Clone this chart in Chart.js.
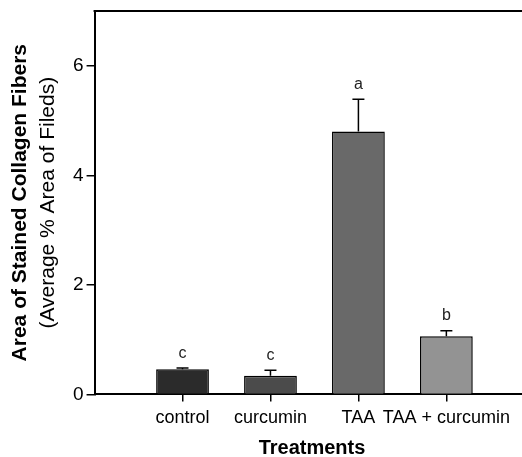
<!DOCTYPE html>
<html>
<head>
<meta charset="utf-8">
<script src="https://cdn.jsdelivr.net/npm/chart.js@4.4.1/dist/chart.umd.min.js"></script>
<style>
  html, body { margin: 0; padding: 0; background: #fff; }
  #wrap { width: 522px; height: 457px; }
</style>
</head>
<body>
<div id="wrap"><canvas id="chart" width="522" height="457"></canvas></div>
<script>
// treatment groups
const treatments = ['control', 'curcumin', 'TAA', 'TAA + curcumin'];
const positions = [1, 2, 3, 4];
// mean % area and upper error (SE)
const means = [0.46, 0.34, 4.80, 1.06];
const errors = [0.02, 0.10, 0.59, 0.10];
const letters = ['c', 'c', 'a', 'b'];
const barColors = ['#2b2b2b', '#4b4b4b', '#696969', '#939393'];
const yTicks = [0, 2, 4, 6];

const FONT = '"Liberation Sans", Arial, sans-serif';

// error bars, letters, frame top and the axis titles
const extras = {
  id: 'extras',
  afterDatasetsDraw(chart) {
    const ctx = chart.ctx;
    const x = chart.scales.x, y = chart.scales.y;
    const area = chart.chartArea;
    ctx.save();
    ctx.strokeStyle = '#000';
    ctx.lineWidth = 1.5;
    means.forEach((m, i) => {
      const px = x.getPixelForValue(positions[i]);
      const top = y.getPixelForValue(m);
      const cap = y.getPixelForValue(m + errors[i]);
      ctx.beginPath();
      ctx.moveTo(px, top);
      ctx.lineTo(px, cap);
      ctx.moveTo(px - 6, cap);
      ctx.lineTo(px + 6, cap);
      ctx.stroke();
      ctx.fillStyle = '#222';
      ctx.font = '16px ' + FONT;
      ctx.textAlign = 'center';
      ctx.textBaseline = 'middle';
      ctx.fillText(letters[i], px, cap - 15);
    });
    // top frame line
    ctx.lineWidth = 2;
    ctx.beginPath();
    ctx.moveTo(area.left - 1, area.top);
    ctx.lineTo(chart.width, area.top);
    ctx.stroke();
    // x title
    ctx.fillStyle = '#000';
    ctx.textAlign = 'center';
    ctx.textBaseline = 'middle';
    ctx.font = 'bold 20px ' + FONT;
    ctx.fillText('Treatments', 312, area.bottom + 54);
    // y titles
    const cy = (area.top + area.bottom) / 2;
    ctx.translate(20, cy);
    ctx.rotate(-Math.PI / 2);
    ctx.font = 'bold 21px ' + FONT;
    ctx.fillText('Area of Stained Collagen Fibers', 0, 0);
    ctx.font = '21px ' + FONT;
    ctx.fillText('(Average % Area of Fileds)', 0, 28);
    ctx.restore();
  }
};

new Chart(document.getElementById('chart'), {
  type: 'bar',
  data: {
    datasets: [{
      data: positions.map((p, i) => ({ x: p, y: means[i] })),
      backgroundColor: barColors,
      borderColor: '#000',
      borderWidth: 1.5,
      borderSkipped: 'bottom',
      categoryPercentage: 1,
      barPercentage: 0.6
    }]
  },
  options: {
    responsive: false,
    animation: false,
    layout: { padding: { left: 70, top: 11, right: 0, bottom: 22 } },
    plugins: { legend: { display: false }, tooltip: { enabled: false } },
    scales: {
      x: {
        type: 'linear',
        offset: false,
        min: 0,
        max: 4.86,
        afterBuildTicks(scale) {
          scale.ticks = positions.map(v => ({ value: v }));
        },
        ticks: {
          color: '#000',
          font: { family: FONT, size: 18 },
          padding: 6,
          maxRotation: 0,
          autoSkip: false,
          callback: (v) => treatments[positions.indexOf(v)] || ''
        },
        grid: { offset: false, drawOnChartArea: false, drawTicks: true, tickLength: 7, color: '#000', lineWidth: 1.5 },
        border: { display: true, color: '#000', width: 2 }
      },
      y: {
        min: 0,
        max: 7,
        afterBuildTicks(scale) {
          scale.ticks = yTicks.map(v => ({ value: v }));
        },
        afterFit(scale) {
          scale.paddingTop = 0;
          scale.paddingBottom = 0;
        },
        ticks: {
          color: '#000',
          font: { family: FONT, size: 19 },
          padding: 3
        },
        grid: { drawOnChartArea: false, drawTicks: true, tickLength: 8, color: '#000', lineWidth: 1.5 },
        border: { display: true, color: '#000', width: 2 }
      }
    }
  },
  plugins: [extras]
});
</script>
</body>
</html>
